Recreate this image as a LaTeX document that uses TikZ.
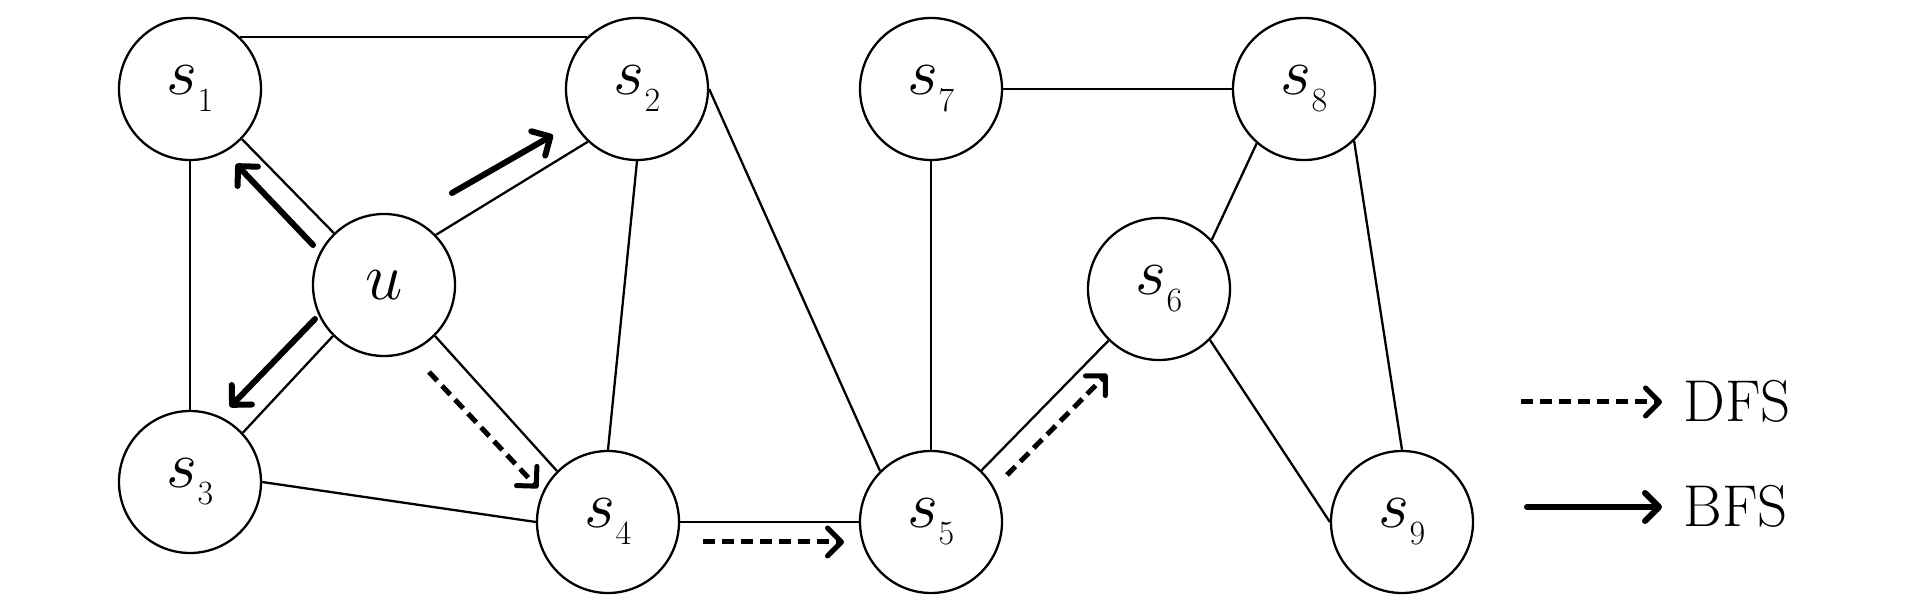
\RequirePackage{fix-cm}
\documentclass[tikz,border=0pt]{standalone}
\usetikzlibrary{arrows.meta}
\newcommand{\sv}[1]{$s\hbox{\lower8.5pt\hbox{\fontsize{17}{20}\selectfont #1}}$}
\begin{document}
\begin{tikzpicture}[x=0.5pt,y=-0.5pt,
  vtx/.style={circle,draw,line width=1.15pt,minimum size=71pt,inner sep=0pt,font=\fontsize{33.5}{40}\selectfont},
  edge/.style={line width=1.15pt},
  bfs/.style={line width=3pt,line cap=round,-{Straight Barb[length=7pt,width=14pt,round]}},
  dfs/.style={line width=2.5pt,dash pattern=on 6pt off 3.5pt,-{Straight Barb[length=7pt,width=14pt,round]}},
  lbl/.style={font=\fontsize{29.5}{35}\selectfont,anchor=base west,inner sep=0pt}]
\useasboundingbox (0,0) rectangle (1913,614);
% vertices
\node[vtx] (s1) at (190,89)  {\sv{1}};
\node[vtx] (s2) at (637,89)  {\sv{2}};
\node[vtx] (u)  at (384,285) {$u$};
\node[vtx] (s3) at (190,482) {\sv{3}};
\node[vtx] (s4) at (608,522) {\sv{4}};
\node[vtx] (s5) at (931,522) {\sv{5}};
\node[vtx] (s7) at (931,89)  {\sv{7}};
\node[vtx] (s8) at (1304,89) {\sv{8}};
\node[vtx] (s6) at (1159,289) {\sv{6}};
\node[vtx] (s9) at (1402,522) {\sv{9}};
% edges
\draw[edge] (s1.46) -- (s2.134);
\draw[edge] (s1) -- (s3);
\draw[edge] (s1.-44) -- (u.134);
\draw[edge] (u.44) -- (s2.227);
\draw[edge] (u.225) -- (s3.43);
\draw[edge] (u.-45) -- (s4.135);
\draw[edge] (s2.south) -- (s4.north);
\draw[edge] (s2.east) -- (s5.135);
\draw[edge] (s3.east) -- (s4.west);
\draw[edge] (s4) -- (s5);
\draw[edge] (s5) -- (s7);
\draw[edge] (s7) -- (s8);
\draw[edge] (s5) -- (s6);
\draw[edge] (s6.43) -- (s8.229);
\draw[edge] (s6.-45) -- (s9.west);
\draw[edge] (s8.-46) -- (s9.north);
% traversal arrows
\coordinate (a1s) at (313,245); \coordinate (a1e) at (236,164);
\coordinate (a2s) at (452,193); \coordinate (a2e) at (553,135);
\coordinate (a3s) at (315,319); \coordinate (a3e) at (230,407);
\coordinate (d1s) at (429,372); \coordinate (d1e) at (538,488);
\coordinate (d2s) at (703,542); \coordinate (d2e) at (844,542);
\coordinate (d3s) at (1007,475); \coordinate (d3e) at (1107,374);
\draw[bfs] (a1s) -- (a1e);
\draw[bfs] (a2s) -- (a2e);
\draw[bfs] (a3s) -- (a3e);
\draw[dfs] (d1s) -- (d1e);
\draw[dfs] (d2s) -- (d2e);
\draw[dfs] (d3s) -- (d3e);
% legend
\node[lbl] (dfslbl) at (1683,422) {DFS};
\node[lbl] (bfslbl) at (1683,527) {BFS};
\coordinate (ld1) at (1521,402); \coordinate (ld2) at (1662,402);
\coordinate (lb1) at (1527,507); \coordinate (lb2) at (1662,507);
\draw[dfs] (ld1) -- (ld2);
\draw[bfs] (lb1) -- (lb2);
\end{tikzpicture}
\end{document}
